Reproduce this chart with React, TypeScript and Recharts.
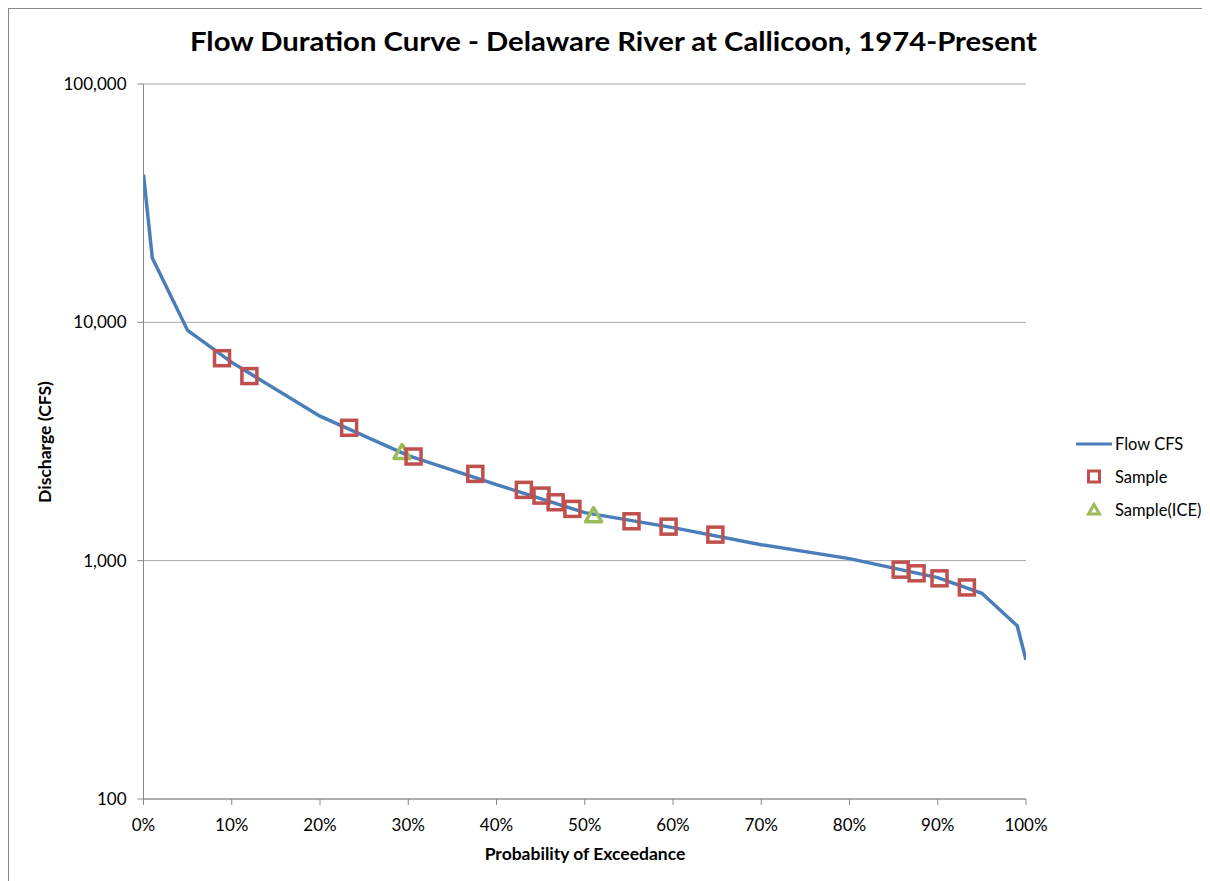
import React from 'react';
import { ScatterChart, Scatter, XAxis, YAxis, CartesianGrid } from 'recharts';

// Flow duration curve (percent exceedance, discharge cfs)
const flowPct = [0, 1, 5, 10, 20, 30, 40, 50, 60, 70, 80, 90, 95, 99, 100];
const flowCfs = [41700, 18600, 9250, 6790, 4040, 2760, 2085, 1590, 1376, 1167, 1020, 849, 730, 533, 384];

// Samples
const samplePct = [8.9, 12.0, 23.3, 30.6, 37.6, 43.1, 45.1, 46.7, 48.6, 55.3, 59.5, 64.8, 85.8, 87.6, 90.2, 93.3];
const sampleCfs = [7070, 5950, 3610, 2735, 2313, 1982, 1875, 1758, 1649, 1463, 1389, 1286, 917, 885, 843, 772];

// Samples under ice
const icePct = [29.3, 51.0];
const iceCfs = [2858, 1552];

const xTicks = [0, 10, 20, 30, 40, 50, 60, 70, 80, 90, 100];
const yTicks = [100, 1000, 10000, 100000];

const seriesNames = ['Flow CFS', 'Sample', 'Sample(ICE)'];
const titleText = 'Flow Duration Curve - Delaware River at Callicoon, 1974-Present';
const xTitle = 'Probability of Exceedance';
const yTitle = 'Discharge (CFS)';

const zip = (xs: number[], ys: number[]) => xs.map((x, i) => ({ x, y: ys[i] }));
const flowData = zip(flowPct, flowCfs);
const sampleData = zip(samplePct, sampleCfs);
const iceData = zip(icePct, iceCfs);

const BLUE = '#4a7ebb';
const RED = '#c0504d';
const GREEN = '#9bbb59';
const FONT = 'Lato, "Open Sans", "DejaVu Sans", sans-serif';

const SquareShape = (props: any) => {
  const { cx, cy } = props;
  if (cx == null || cy == null) return <g />;
  return <rect x={cx - 7.5} y={cy - 7.5} width={15} height={15} fill="none" stroke={RED} strokeWidth={3.5} />;
};

const TriangleShape = (props: any) => {
  const { cx, cy } = props;
  if (cx == null || cy == null) return <g />;
  const d = `M ${cx} ${cy - 7.5} L ${cx + 8} ${cy + 6.5} L ${cx - 8} ${cy + 6.5} Z`;
  return <path d={d} fill="none" stroke={GREEN} strokeWidth={3.5} strokeLinejoin="round" />;
};

const NoShape = () => <g />;

export default function App() {
  // legend origin in overlay coordinates (page 1060,425 minus wrapper offset 9,9)
  const lx = 1051;
  const ly = 416;
  return (
    <div
      style={{
        position: 'relative',
        width: 1230,
        height: 900,
        boxSizing: 'border-box',
        borderTop: '1px solid #888',
        borderLeft: '1px solid #888',
        background: '#fff',
        fontFamily: FONT,
      }}
    >
      <style>{`html,body{overflow:hidden;}`}</style>
      <ScatterChart
        width={1201}
        height={872}
        margin={{ top: 75, right: 184, bottom: 22, left: 34.5 }}
      >
        <CartesianGrid horizontal vertical={false} stroke="#a6a6a6" strokeWidth={1} />
        <XAxis
          type="number"
          dataKey="x"
          domain={[0, 100]}
          ticks={xTicks}
          interval={0}
          tickFormatter={(v: number) => `${v}%`}
          height={60}
          tickSize={6}
          tickMargin={14}
          stroke="#888"
          tick={{ fill: '#000', fontSize: 17, fontFamily: FONT }}
          allowDataOverflow
        />
        <YAxis
          type="number"
          dataKey="y"
          scale="log"
          domain={[100, 100000]}
          ticks={yTicks}
          interval={0}
          tickFormatter={(v: number) => v.toLocaleString('en-US')}
          width={100}
          tickSize={6}
          tickMargin={11}
          stroke="#888"
          tick={{ fill: '#000', fontSize: 17, fontFamily: FONT }}
          allowDataOverflow
        />
        <Scatter
          name={seriesNames[0]}
          data={flowData}
          line={{ stroke: BLUE, strokeWidth: 3.5 }}
          lineJointType="linear"
          shape={NoShape}
          isAnimationActive={false}
        />
        <Scatter name={seriesNames[2]} data={iceData} shape={TriangleShape} isAnimationActive={false} />
        <Scatter name={seriesNames[1]} data={sampleData} shape={SquareShape} isAnimationActive={false} />
      </ScatterChart>
      <svg
        width={1201}
        height={872}
        style={{ position: 'absolute', left: 0, top: 0, pointerEvents: 'none' }}
      >
        <text
          x={604.5}
          y={41.7}
          textAnchor="middle"
          fontFamily={FONT}
          fontWeight="bold"
          fontSize={27}
          fill="#000"
          textLength={847}
          lengthAdjust="spacingAndGlyphs"
        >
          {titleText}
        </text>
        <text x={576} y={851} textAnchor="middle" fontFamily={FONT} fontWeight="bold" fontSize={17.5} fill="#000">
          {xTitle}
        </text>
        <text
          x={0}
          y={0}
          transform="translate(42,433) rotate(-90)"
          textAnchor="middle"
          fontFamily={FONT}
          fontWeight="bold"
          fontSize={17.5}
          fill="#000"
        >
          {yTitle}
        </text>
        <g transform={`translate(${lx},${ly})`}>
          <line x1={16} y1={19} x2={52} y2={19} stroke={BLUE} strokeWidth={3} />
          <text x={55} y={19} dominantBaseline="central" fontFamily={FONT} fontSize={16.5} fill="#000">{seriesNames[0]}</text>
          <rect x={28.5} y={46} width={11} height={11} fill="none" stroke={RED} strokeWidth={3} />
          <text x={55} y={51.7} dominantBaseline="central" fontFamily={FONT} fontSize={16.5} fill="#000">{seriesNames[1]}</text>
          <path d="M 34 79.5 L 39.5 89 L 28.5 89 Z" fill="none" stroke={GREEN} strokeWidth={3} />
          <text x={55} y={85} dominantBaseline="central" fontFamily={FONT} fontSize={16.5} fill="#000">{seriesNames[2]}</text>
        </g>
      </svg>
    </div>
  );
}
